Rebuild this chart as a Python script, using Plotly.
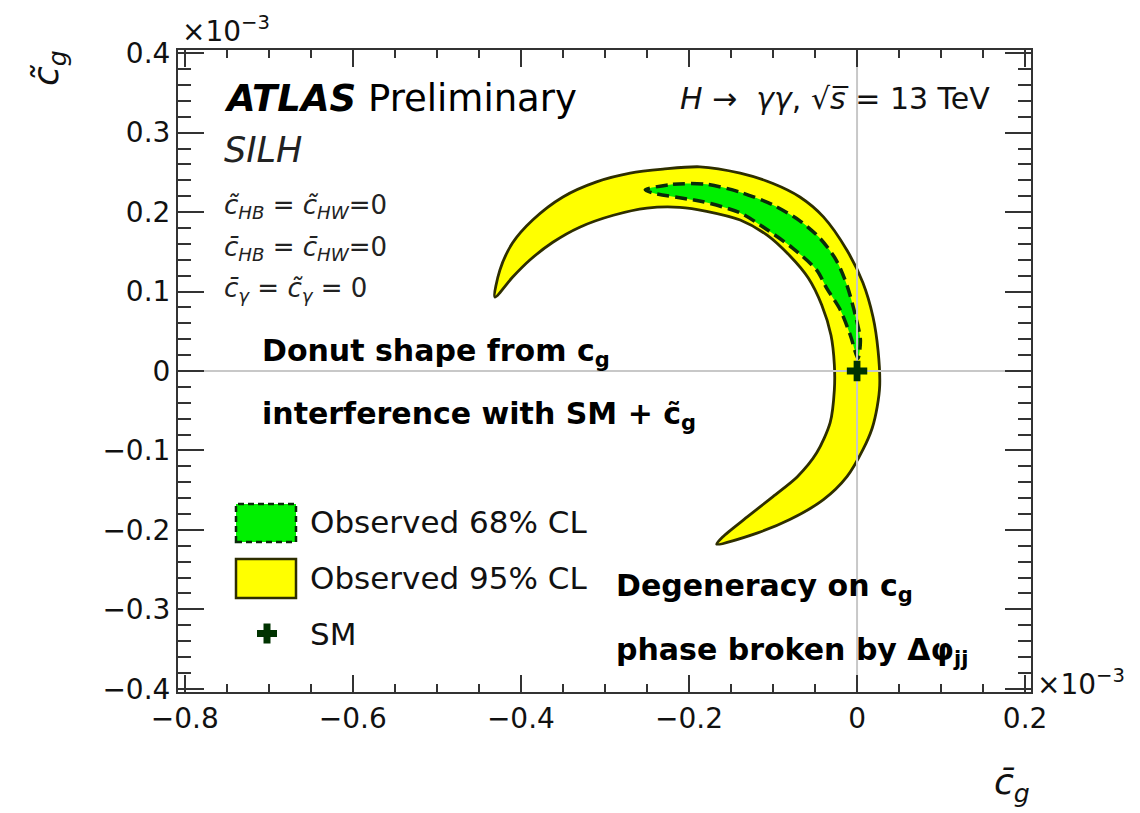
import plotly.graph_objects as go

# ---------------- data (units of 1e-3) ----------------
# Observed 95% CL contour (outer edge from left tip clockwise, then inner edge back)
cl95_x = [-0.431, -0.425, -0.410, -0.386, -0.350, -0.310, -0.270, -0.231, -0.187, -0.139,
          -0.100, -0.068, -0.040, -0.012, 0.007, 0.019, 0.025, 0.027, 0.024, 0.018,
          0.007, -0.012, -0.040, -0.080, -0.119, -0.167,
          -0.160, -0.131, -0.100, -0.071, -0.048, -0.032, -0.027, -0.027, -0.031, -0.042,
          -0.058, -0.080, -0.107, -0.139, -0.179, -0.211, -0.250, -0.290, -0.330, -0.362,
          -0.389, -0.410, -0.431]
cl95_y = [0.093, 0.127, 0.161, 0.190, 0.219, 0.238, 0.249, 0.254, 0.257, 0.249,
          0.236, 0.219, 0.194, 0.152, 0.111, 0.068, 0.026, -0.018, -0.045, -0.072,
          -0.099, -0.133, -0.162, -0.187, -0.204, -0.218,
          -0.209, -0.184, -0.158, -0.133, -0.103, -0.065, -0.024, 0.008, 0.045, 0.083,
          0.117, 0.145, 0.171, 0.190, 0.201, 0.206, 0.205, 0.196, 0.181, 0.162,
          0.140, 0.118, 0.093]

# Observed 68% CL contour
cl68_x = [-0.252, -0.219, -0.179, -0.139, -0.100, -0.068, -0.044, -0.025, -0.012, -0.002,
          0.004, 0.001,
          -0.008, -0.020, -0.036, -0.048, -0.077, -0.110, -0.139, -0.183, -0.199, -0.243,
          -0.252]
cl68_y = [0.228, 0.235, 0.235, 0.225, 0.209, 0.189, 0.167, 0.140, 0.108, 0.070,
          0.039, 0.016,
          0.045, 0.077, 0.104, 0.127, 0.155, 0.180, 0.199, 0.213, 0.216, 0.224,
          0.228]

# Standard Model point
sm_x = [0.0]
sm_y = [0.0]

x_range = [-0.808, 0.207]
y_range = [-0.404, 0.404]

legend_labels = ["Observed 68% CL", "Observed 95% CL", "SM"]

# ---------------- styling ----------------
FONT = "DejaVu Sans"
FRAME = "#333333"
YELLOW = "#ffff00"
GREEN = "#00f000"
OLIVE = "#2e2e00"
DASHC = "#0a2a0a"
SMC = "#003300"

OFF = 8  # default page body margin
# plot frame in page pixels
L, R, T, B = 178, 1031, 50, 692
W, H = 1140 - OFF, 813 - OFF


def pxx(p):
    return (p - L) / (R - L)


def pxy(p):
    return (B - p) / (B - T)


fig = go.Figure()

fig.add_trace(go.Scatter(
    x=cl95_x, y=cl95_y, mode="lines", fill="toself", fillcolor=YELLOW,
    line=dict(color=OLIVE, width=2.8, shape="spline", smoothing=0.8),
    hoverinfo="skip", showlegend=False))

fig.add_trace(go.Scatter(
    x=cl68_x, y=cl68_y, mode="lines", fill="toself", fillcolor=GREEN,
    line=dict(color=DASHC, width=3.5, dash="12px,6px", shape="spline", smoothing=0.8),
    hoverinfo="skip", showlegend=False))

# reference lines at zero (drawn above the contours, below the SM marker)
fig.add_trace(go.Scatter(x=[0, 0], y=y_range, mode="lines",
                         line=dict(color="#c8c8c8", width=2),
                         hoverinfo="skip", showlegend=False))
fig.add_trace(go.Scatter(x=x_range, y=[0, 0], mode="lines",
                         line=dict(color="#c8c8c8", width=2),
                         hoverinfo="skip", showlegend=False))

fig.add_trace(go.Scatter(
    x=sm_x, y=sm_y, mode="markers",
    marker=dict(symbol="cross", size=17, color=SMC, line=dict(width=0)),
    hoverinfo="skip", showlegend=False))

axis_common = dict(
    showgrid=False, zeroline=False, showline=True, linecolor=FRAME, linewidth=2,
    mirror="ticks", ticks="inside", tickcolor=FRAME, tickwidth=1.5,
    tickfont=dict(family=FONT, size=28, color="#111111"),
)

fig.update_xaxes(range=x_range, tick0=0, dtick=0.2, ticklen=17,
                 ticklabelstandoff=0,
                 minor=dict(ticks="inside", tick0=0, dtick=0.05, ticklen=8,
                            tickcolor=FRAME, tickwidth=1.5),
                 **axis_common)
fig.update_yaxes(range=y_range, tick0=0, dtick=0.1, ticklen=26,
                 ticklabelstandoff=0,
                 minor=dict(ticks="inside", tick0=0, dtick=0.02, ticklen=13,
                            tickcolor=FRAME, tickwidth=1.5),
                 **axis_common)

ann = []


def text(x, y, s, size, xanchor="left", yanchor="middle", angle=0, color="#000000"):
    ann.append(dict(x=pxx(x), y=pxy(y), xref="paper", yref="paper", text=s,
                    showarrow=False, xanchor=xanchor, yanchor=yanchor,
                    textangle=angle,
                    font=dict(family=FONT, size=size, color=color)))


text(222, 99, "<b><i>ATLAS</i></b> Preliminary", 37)
text(222, 150, "<i>SILH</i>", 35, color="#222222")
text(222, 207, "<i>c\u0303<sub>HB</sub></i> = <i>c\u0303<sub>HW</sub></i>=0", 26, color="#222222")
text(222, 248, "<i>c\u0304<sub>HB</sub></i> = <i>c\u0304<sub>HW</sub></i>=0", 26, color="#222222")
text(222, 289, "<i>c\u0304<sub>\u03b3</sub></i> = <i>c\u0303<sub>\u03b3</sub></i> = 0", 26, color="#222222")
text(678, 98, "<i>H</i> \u2192  <i>\u03b3\u03b3</i>, \u221a<i>s\u0305</i> = 13 TeV", 30, color="#111111")

text(260, 352, "<b>Donut shape from c<sub>g</sub></b>", 30)
text(260, 415, "<b>interference with SM + c\u0303<sub>g</sub></b>", 30)
text(614, 587, "<b>Degeneracy on c<sub>g</sub></b>", 30)
text(614, 651, "<b>phase broken by \u0394\u03c6<sub>jj</sub></b>", 30)

text(180, 30, "\u00d710<sup>\u22123</sup>", 28, color="#111111")
text(1035, 682, "\u00d710<sup>\u22123</sup>", 28, color="#111111")

text(48, 68, "<i>c\u0303<sub>g</sub></i>", 36, xanchor="center", angle=-90, color="#111111")
text(1012, 784, "<i>c\u0304<sub>g</sub></i>", 36, xanchor="center", color="#111111")

# legend entries
text(308, 522, legend_labels[0], 31, color="#111111")
text(308, 578, legend_labels[1], 31, color="#111111")
text(308, 634, legend_labels[2], 31, color="#111111")

shapes = [
    dict(type="rect", xref="paper", yref="paper",
         x0=pxx(236), x1=pxx(296), y0=pxy(542), y1=pxy(504),
         fillcolor=GREEN, line=dict(color=DASHC, width=2.5, dash="6px,4px")),
    dict(type="rect", xref="paper", yref="paper",
         x0=pxx(236), x1=pxx(296), y0=pxy(598), y1=pxy(559),
         fillcolor=YELLOW, line=dict(color=OLIVE, width=2.5)),
    dict(type="rect", xref="paper", yref="paper",
         x0=pxx(257), x1=pxx(277), y0=pxy(637), y1=pxy(630),
         fillcolor=SMC, line=dict(width=0)),
    dict(type="rect", xref="paper", yref="paper",
         x0=pxx(263.5), x1=pxx(270.5), y0=pxy(643.5), y1=pxy(623.5),
         fillcolor=SMC, line=dict(width=0)),
]

fig.update_layout(
    width=W, height=H,
    margin=dict(l=L - OFF, r=W - (R - OFF), t=T - OFF,
                b=H - (B - OFF), pad=0),
    paper_bgcolor="white", plot_bgcolor="white",
    annotations=ann, shapes=shapes, showlegend=False,
)

fig.write_html("out.html")
